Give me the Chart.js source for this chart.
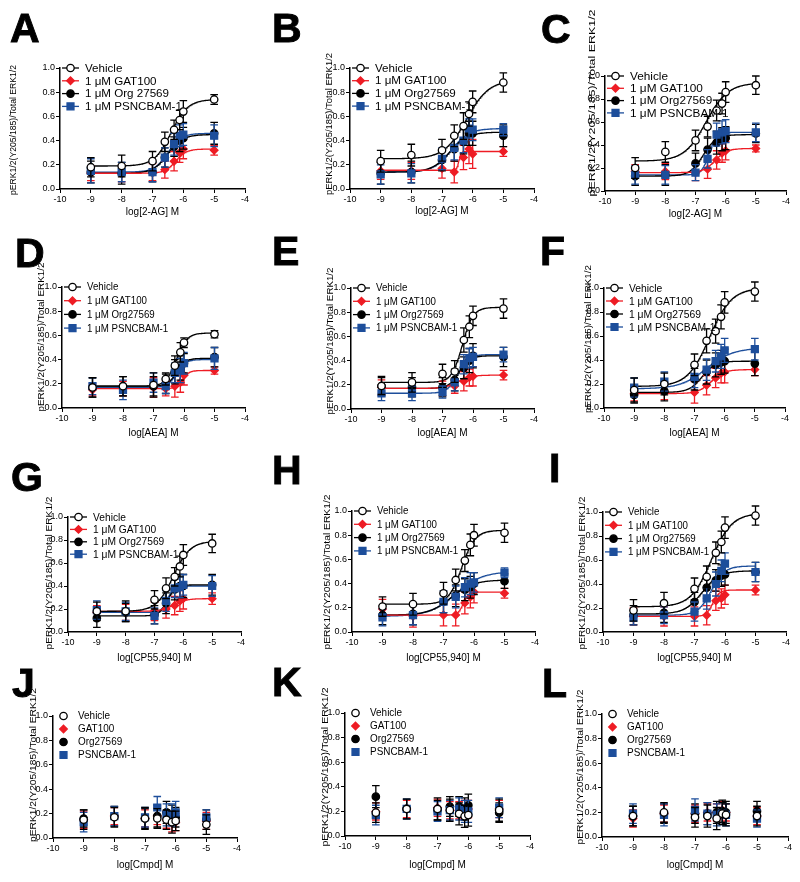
<!DOCTYPE html>
<html><head><meta charset="utf-8">
<script src="https://cdn.jsdelivr.net/npm/chart.js@4.4.0/dist/chart.umd.min.js"></script>
<style>
html,body{margin:0;padding:0;background:#fff;}
#fig{position:relative;width:800px;height:882px;overflow:hidden;background:#fff;}
#fig canvas{position:absolute;}
.lbl{position:absolute;font-family:"Liberation Sans",Arial,sans-serif;font-weight:bold;font-size:41px;line-height:41px;color:#000;-webkit-text-stroke:0.9px #000;}
</style></head><body><div id="fig"></div>
<script>
// ---------------- DATA ----------------
const panelIds = ['A','B','C','D','E','F','G','H','I','J','K','L'];
const logConc = [-9, -8, -7, -6.6, -6.3, -6.12, -6, -5];
const xTickValues = [-10, -9, -8, -7, -6, -5, -4];
const xTickLabels = ['-10', '-9', '-8', '-7', '-6', '-5', '-4'];
const yTickValues = [0, 0.2, 0.4, 0.6, 0.8, 1.0];
const yTickLabels = ['0.0', '0.2', '0.4', '0.6', '0.8', '1.0'];
const yAxisTitle = 'pERK1/2(Y205/185)/Total ERK1/2';
const xAxisTitles = ['log[2-AG] M','log[2-AG] M','log[2-AG] M','log[AEA] M','log[AEA] M','log[AEA] M',
  'log[CP55,940] M','log[CP55,940] M','log[CP55,940] M','log[Cmpd] M','log[Cmpd] M','log[Cmpd] M'];
const legendWithModulator = ['Vehicle', '1 μM GAT100', '1 μM Org27569', '1 μM PSNCBAM-1'];
const legendWithModulatorA = ['Vehicle', '1 μM GAT100', '1 μM Org 27569', '1 μM PSNCBAM-1'];
const legendCompoundOnly = ['Vehicle', 'GAT100', 'Org27569', 'PSNCBAM-1'];

const vehicleMean = [
  [0.18, 0.19, 0.23, 0.39, 0.49, 0.57, 0.64, 0.74],
  [0.23, 0.28, 0.32, 0.44, 0.52, 0.62, 0.72, 0.88],
  [0.20, 0.34, 0.44, 0.56, 0.70, 0.76, 0.86, 0.92],
  [0.17, 0.18, 0.19, 0.24, 0.35, 0.46, 0.54, 0.61],
  [0.19, 0.22, 0.29, 0.31, 0.57, 0.68, 0.77, 0.83],
  [0.15, 0.20, 0.36, 0.56, 0.64, 0.76, 0.88, 0.97],
  [0.18, 0.18, 0.28, 0.38, 0.48, 0.57, 0.67, 0.77],
  [0.21, 0.23, 0.32, 0.43, 0.59, 0.72, 0.80, 0.82],
  [0.18, 0.24, 0.36, 0.46, 0.66, 0.75, 0.87, 0.97],
  [0.15, 0.17, 0.16, 0.16, 0.15, 0.13, 0.14, 0.11],
  [0.19, 0.22, 0.22, 0.21, 0.18, 0.16, 0.17, 0.21],
  [0.17, 0.20, 0.16, 0.17, 0.15, 0.19, 0.18, 0.17]
];
const vehicleSem = [
  [0.08, 0.09, 0.08, 0.08, 0.08, 0.08, 0.09, 0.04],
  [0.09, 0.09, 0.09, 0.09, 0.11, 0.10, 0.09, 0.08],
  [0.09, 0.09, 0.09, 0.09, 0.09, 0.09, 0.09, 0.08],
  [0.08, 0.08, 0.10, 0.05, 0.08, 0.08, 0.04, 0.03],
  [0.07, 0.08, 0.08, 0.09, 0.10, 0.09, 0.08, 0.08],
  [0.10, 0.09, 0.09, 0.10, 0.10, 0.10, 0.09, 0.08],
  [0.08, 0.09, 0.08, 0.09, 0.08, 0.09, 0.09, 0.08],
  [0.08, 0.09, 0.09, 0.09, 0.09, 0.09, 0.09, 0.08],
  [0.09, 0.09, 0.09, 0.09, 0.09, 0.09, 0.09, 0.08],
  [0.08, 0.08, 0.09, 0.08, 0.08, 0.09, 0.08, 0.08],
  [0.08, 0.08, 0.09, 0.09, 0.09, 0.09, 0.09, 0.09],
  [0.08, 0.08, 0.08, 0.09, 0.09, 0.09, 0.09, 0.08]
];
const gatMean = [
  [0.13, 0.13, 0.14, 0.16, 0.23, 0.30, 0.33, 0.32],
  [0.15, 0.15, 0.17, 0.14, 0.26, 0.33, 0.29, 0.31],
  [0.17, 0.17, 0.16, 0.19, 0.27, 0.33, 0.35, 0.37],
  [0.15, 0.16, 0.17, 0.16, 0.18, 0.21, 0.27, 0.31],
  [0.18, 0.17, 0.17, 0.19, 0.23, 0.26, 0.27, 0.28],
  [0.12, 0.14, 0.13, 0.19, 0.25, 0.29, 0.30, 0.32],
  [0.17, 0.17, 0.18, 0.20, 0.23, 0.27, 0.29, 0.29],
  [0.19, 0.13, 0.14, 0.14, 0.24, 0.29, 0.33, 0.32],
  [0.13, 0.13, 0.13, 0.14, 0.26, 0.28, 0.31, 0.35],
  [0.15, 0.18, 0.16, 0.18, 0.15, 0.12, 0.13, 0.14],
  [0.20, 0.22, 0.23, 0.21, 0.21, 0.22, 0.22, 0.22],
  [0.15, 0.19, 0.19, 0.20, 0.20, 0.22, 0.20, 0.17]
];
const gatSem = [
  [0.06, 0.07, 0.07, 0.07, 0.08, 0.08, 0.08, 0.04],
  [0.07, 0.07, 0.08, 0.09, 0.10, 0.12, 0.12, 0.04],
  [0.06, 0.07, 0.07, 0.08, 0.08, 0.08, 0.08, 0.03],
  [0.05, 0.06, 0.08, 0.06, 0.09, 0.08, 0.08, 0.03],
  [0.06, 0.06, 0.06, 0.06, 0.08, 0.07, 0.08, 0.04],
  [0.06, 0.07, 0.09, 0.08, 0.08, 0.08, 0.09, 0.05],
  [0.06, 0.07, 0.08, 0.08, 0.08, 0.09, 0.09, 0.05],
  [0.08, 0.09, 0.09, 0.09, 0.09, 0.09, 0.09, 0.04],
  [0.07, 0.08, 0.08, 0.08, 0.08, 0.08, 0.08, 0.04],
  [0.07, 0.07, 0.07, 0.07, 0.07, 0.07, 0.07, 0.07],
  [0.07, 0.07, 0.07, 0.07, 0.07, 0.07, 0.07, 0.07],
  [0.07, 0.07, 0.07, 0.07, 0.07, 0.07, 0.07, 0.07]
];
const orgMean = [
  [0.14, 0.13, 0.14, 0.26, 0.35, 0.40, 0.42, 0.46],
  [0.13, 0.14, 0.24, 0.33, 0.39, 0.46, 0.46, 0.44],
  [0.13, 0.14, 0.24, 0.36, 0.42, 0.45, 0.46, 0.50],
  [0.17, 0.18, 0.18, 0.20, 0.30, 0.33, 0.37, 0.42],
  [0.19, 0.18, 0.18, 0.24, 0.34, 0.40, 0.44, 0.43],
  [0.11, 0.14, 0.24, 0.30, 0.36, 0.38, 0.39, 0.37],
  [0.12, 0.17, 0.15, 0.25, 0.37, 0.40, 0.40, 0.41],
  [0.14, 0.15, 0.25, 0.30, 0.35, 0.37, 0.40, 0.42],
  [0.14, 0.16, 0.25, 0.37, 0.43, 0.47, 0.48, 0.50],
  [0.16, 0.18, 0.16, 0.18, 0.21, 0.19, 0.17, 0.15],
  [0.32, 0.22, 0.21, 0.24, 0.24, 0.22, 0.25, 0.19],
  [0.17, 0.19, 0.19, 0.19, 0.20, 0.21, 0.20, 0.21]
];
const orgSem = [
  [0.09, 0.09, 0.08, 0.08, 0.08, 0.09, 0.09, 0.09],
  [0.09, 0.09, 0.09, 0.10, 0.10, 0.10, 0.10, 0.09],
  [0.08, 0.09, 0.09, 0.10, 0.10, 0.10, 0.10, 0.08],
  [0.08, 0.08, 0.08, 0.08, 0.10, 0.10, 0.08, 0.08],
  [0.08, 0.08, 0.08, 0.09, 0.09, 0.10, 0.10, 0.08],
  [0.07, 0.08, 0.09, 0.10, 0.10, 0.10, 0.10, 0.10],
  [0.08, 0.08, 0.08, 0.09, 0.09, 0.10, 0.10, 0.09],
  [0.08, 0.09, 0.09, 0.09, 0.09, 0.09, 0.09, 0.06],
  [0.08, 0.08, 0.08, 0.09, 0.09, 0.09, 0.09, 0.08],
  [0.07, 0.08, 0.08, 0.09, 0.09, 0.08, 0.08, 0.08],
  [0.09, 0.08, 0.08, 0.08, 0.08, 0.09, 0.09, 0.08],
  [0.08, 0.08, 0.08, 0.09, 0.09, 0.09, 0.09, 0.08]
];
const psnMean = [
  [0.15, 0.14, 0.14, 0.26, 0.37, 0.44, 0.45, 0.44],
  [0.12, 0.13, 0.25, 0.34, 0.40, 0.50, 0.49, 0.49],
  [0.14, 0.14, 0.16, 0.28, 0.49, 0.51, 0.52, 0.51],
  [0.18, 0.15, 0.21, 0.18, 0.29, 0.31, 0.37, 0.41],
  [0.13, 0.13, 0.14, 0.22, 0.37, 0.42, 0.43, 0.45],
  [0.17, 0.22, 0.26, 0.32, 0.39, 0.43, 0.48, 0.49],
  [0.19, 0.18, 0.14, 0.27, 0.38, 0.39, 0.41, 0.40],
  [0.12, 0.14, 0.25, 0.29, 0.37, 0.40, 0.41, 0.49],
  [0.12, 0.14, 0.17, 0.28, 0.40, 0.51, 0.57, 0.50],
  [0.13, 0.18, 0.17, 0.25, 0.19, 0.19, 0.21, 0.17],
  [0.17, 0.22, 0.20, 0.21, 0.22, 0.20, 0.20, 0.23],
  [0.19, 0.18, 0.22, 0.19, 0.18, 0.19, 0.18, 0.15]
];
const psnSem = [
  [0.10, 0.08, 0.08, 0.08, 0.09, 0.09, 0.09, 0.09],
  [0.08, 0.08, 0.09, 0.10, 0.10, 0.08, 0.09, 0.05],
  [0.08, 0.08, 0.07, 0.08, 0.10, 0.10, 0.10, 0.08],
  [0.07, 0.08, 0.08, 0.06, 0.08, 0.10, 0.09, 0.09],
  [0.06, 0.06, 0.05, 0.07, 0.08, 0.08, 0.08, 0.06],
  [0.08, 0.08, 0.09, 0.09, 0.09, 0.10, 0.10, 0.09],
  [0.08, 0.08, 0.07, 0.09, 0.08, 0.09, 0.09, 0.09],
  [0.07, 0.08, 0.09, 0.09, 0.08, 0.09, 0.08, 0.04],
  [0.06, 0.07, 0.08, 0.09, 0.10, 0.09, 0.09, 0.08],
  [0.08, 0.08, 0.08, 0.09, 0.09, 0.09, 0.09, 0.06],
  [0.08, 0.08, 0.08, 0.08, 0.09, 0.09, 0.09, 0.08],
  [0.08, 0.09, 0.09, 0.09, 0.09, 0.09, 0.09, 0.07]
];
// fitted curve parameters: [bottom, top, logEC50, Hill slope]; none for J-L
const vehicleFit = [
  [0.19, 0.74, -6.40, 1.6], [0.25, 0.90, -6.20, 1.2], [0.26, 0.94, -6.65, 1.2],
  [0.18, 0.62, -6.25, 2.5], [0.22, 0.84, -6.35, 2.5], [0.18, 1.00, -6.50, 1.2],
  [0.18, 0.79, -6.35, 1.5], [0.23, 0.84, -6.40, 2.0], [0.21, 0.99, -6.45, 1.3],
  null, null, null
];
const gatFit = [
  [0.13, 0.33, -6.25, 2.5], [0.155, 0.31, -6.45, 12], [0.16, 0.37, -6.35, 2.2],
  [0.16, 0.31, -6.05, 4.0], [0.17, 0.28, -6.50, 2.0], [0.12, 0.32, -6.45, 2.0],
  [0.18, 0.29, -6.35, 2.0], [0.14, 0.33, -6.35, 5.0], [0.13, 0.35, -6.40, 4.0],
  null, null, null
];
const orgFit = [
  [0.13, 0.45, -6.50, 1.8], [0.14, 0.47, -6.75, 1.5], [0.13, 0.49, -6.75, 2.0],
  [0.18, 0.41, -6.25, 3.0], [0.17, 0.44, -6.45, 2.5], [0.13, 0.39, -6.75, 2.0],
  [0.14, 0.41, -6.55, 3.0], [0.14, 0.43, -6.75, 1.2], [0.15, 0.51, -6.75, 1.5],
  null, null, null
];
const psnFit = [
  [0.14, 0.46, -6.50, 2.0], [0.14, 0.50, -6.70, 1.5], [0.14, 0.51, -6.55, 3.5],
  [0.17, 0.40, -6.25, 3.0], [0.13, 0.45, -6.50, 2.5], [0.16, 0.50, -6.60, 1.0],
  [0.17, 0.40, -6.55, 4.0], [0.13, 0.50, -6.60, 1.0], [0.14, 0.55, -6.45, 2.0],
  null, null, null
];
const fitRange = [-9, -5];

// ---------------- STYLE / LAYOUT ----------------
const seriesMeans = [vehicleMean, gatMean, orgMean, psnMean];
const seriesSems = [vehicleSem, gatSem, orgSem, psnSem];
const seriesFits = [vehicleFit, gatFit, orgFit, psnFit];
const seriesColor = ['#000000', '#ee1c24', '#000000', '#1d4e9b'];
const seriesFill = ['#ffffff', '#ee1c24', '#000000', '#1d4e9b'];
const seriesShape = ['circle', 'rectRot', 'circle', 'rect'];
const seriesRadius = [3.7, 3.8, 3.7, 4.9];
const seriesOrder = [0, 3, 2, 1];
const FONT = '"Liberation Sans", Arial, sans-serif';

// plot box (page px), y-title centre/length, x-title centre, legend font/x-scale/gap, letter position
const layout = [
  {L:60,  R:245, T:68,  B:189, ytx:13,  yty:130, ytLen:130, xt:212, lgF:11.6, lgS:1.0,  lgG:12.8, lx:10,  ly:8},
  {L:350, R:534, T:68,  B:189, ytx:329, yty:124, ytLen:142, xt:211, lgF:11.6, lgS:1.0,  lgG:12.7, lx:272, ly:8},
  {L:605, R:786, T:76,  B:191, ytx:592, yty:103, ytLen:187, xt:214, lgF:11.8, lgS:1.0,  lgG:12.3, lx:541, ly:9},
  {L:62,  R:245, T:287, B:408, ytx:41,  yty:337, ytLen:149, xt:433, lgF:10.8, lgS:0.9,  lgG:13.7, lx:15,  ly:233},
  {L:351, R:534, T:288, B:409, ytx:330, yty:341, ytLen:147, xt:433, lgF:10.8, lgS:0.9,  lgG:13.3, lx:272, ly:231},
  {L:604, R:785, T:288, B:408, ytx:588, yty:339, ytLen:148, xt:433, lgF:11,   lgS:0.94, lgG:13,   lx:540, ly:231},
  {L:68,  R:241, T:517, B:632, ytx:49,  yty:573, ytLen:153, xt:658, lgF:11,   lgS:0.93, lgG:12.4, lx:11,  ly:457},
  {L:352, R:535, T:511, B:632, ytx:327, yty:572, ytLen:155, xt:658, lgF:10.8, lgS:0.9,  lgG:13.3, lx:272, ly:450},
  {L:603, R:786, T:512, B:632, ytx:582, yty:573, ytLen:153, xt:658, lgF:10.8, lgS:0.9,  lgG:13.3, lx:549, ly:448},
  {L:53,  R:237, T:716, B:838, ytx:33,  yty:765, ytLen:154, xt:865, lgF:10.8, lgS:0.92, lgG:13,   lx:12,  ly:663},
  {L:345, R:530, T:713, B:836, ytx:325, yty:767, ytLen:159, xt:865, lgF:10.8, lgS:0.92, lgG:13,   lx:272, ly:662},
  {L:602, R:788, T:714, B:837, ytx:580, yty:767, ytLen:155, xt:865, lgF:10.8, lgS:0.92, lgG:13,   lx:542, ly:663}
];

// ---------------- PLUGINS ----------------
const errorBars = {
  id: 'errorBars',
  beforeDatasetDraw(chart, args) {
    const ds = chart.data.datasets[args.index];
    if (!ds.sem) return;
    const ys = chart.scales.y, ctx = chart.ctx;
    ctx.save();
    ctx.strokeStyle = ds.barColor;
    ctx.lineWidth = 1.3;
    args.meta.data.forEach((el, j) => {
      const v = ds.data[j].y, e = ds.sem[j];
      const top = ys.getPixelForValue(v + e), bot = ys.getPixelForValue(v - e);
      ctx.beginPath();
      ctx.moveTo(el.x, top); ctx.lineTo(el.x, bot);
      ctx.moveTo(el.x - 3.8, top); ctx.lineTo(el.x + 3.8, top);
      ctx.moveTo(el.x - 3.8, bot); ctx.lineTo(el.x + 3.8, bot);
      ctx.stroke();
    });
    ctx.restore();
  }
};

const panelDecor = {
  id: 'panelDecor',
  afterDraw(chart, args, opts) {
    const ctx = chart.ctx, ca = chart.chartArea;
    // y-axis title, glyph size fixed, stretched along the axis to the measured length
    ctx.save();
    ctx.font = '9.6px ' + FONT;
    const w = ctx.measureText(yAxisTitle).width;
    ctx.fillStyle = '#000';
    ctx.textAlign = 'center';
    ctx.textBaseline = 'middle';
    ctx.translate(opts.ytX, opts.ytY);
    ctx.rotate(-Math.PI / 2);
    ctx.scale(opts.ytLen / w, 1);
    ctx.fillText(yAxisTitle, 0, 0);
    ctx.restore();
    // legend
    ctx.save();
    ctx.font = opts.lgF + 'px ' + FONT;
    ctx.textBaseline = 'middle';
    ctx.textAlign = 'left';
    opts.labels.forEach((lab, k) => {
      const y = ca.top + k * opts.lgG;
      const x0 = ca.left;
      if (opts.withLine) {
        ctx.strokeStyle = seriesColor[k];
        ctx.lineWidth = 1.3;
        ctx.beginPath(); ctx.moveTo(x0 + 2, y); ctx.lineTo(x0 + 19, y); ctx.stroke();
      }
      ctx.fillStyle = seriesFill[k];
      ctx.strokeStyle = seriesColor[k];
      ctx.lineWidth = 1.3;
      Chart.helpers.drawPoint(ctx, {pointStyle: seriesShape[k], radius: seriesRadius[k], borderWidth: 1.3, rotation: 0}, x0 + 10.5, y);
      ctx.fillStyle = '#000';
      ctx.save();
      ctx.translate(x0 + 25, y + 0.5);
      ctx.scale(opts.lgS, 1);
      ctx.fillText(lab, 0, 0);
      ctx.restore();
    });
    ctx.restore();
  }
};

// ---------------- BUILD ----------------
const fig = document.getElementById('fig');

function fitCurve(p) {
  const pts = [];
  const [b, t, ec, h] = p;
  for (let x = fitRange[0]; x <= fitRange[1] + 1e-9; x += 0.02) {
    pts.push({x: x, y: b + (t - b) / (1 + Math.pow(10, (ec - x) * h))});
  }
  return pts;
}

panelIds.forEach((id, i) => {
  const g = layout[i];
  const cx = Math.max(0, g.L - 62), cy = Math.max(0, g.T - 75);
  const cw = g.R + 10 - cx, ch = g.B + 42 - cy;
  const yw = g.L - cx, xh = 42;
  const canvas = document.createElement('canvas');
  canvas.width = cw; canvas.height = ch;
  canvas.style.left = cx + 'px'; canvas.style.top = cy + 'px';
  canvas.style.width = cw + 'px'; canvas.style.height = ch + 'px';
  fig.appendChild(canvas);

  const letter = document.createElement('div');
  letter.className = 'lbl';
  letter.textContent = id;
  letter.style.left = g.lx + 'px'; letter.style.top = g.ly + 'px';
  fig.appendChild(letter);

  const datasets = [];
  for (let s = 0; s < 4; s++) {
    datasets.push({
      type: 'scatter',
      label: legendCompoundOnly[s],
      data: logConc.map((x, j) => ({x: x, y: seriesMeans[s][i][j]})),
      sem: seriesSems[s][i],
      barColor: seriesColor[s],
      pointStyle: seriesShape[s],
      pointRadius: seriesRadius[s],
      pointHoverRadius: seriesRadius[s],
      pointBackgroundColor: seriesFill[s],
      pointBorderColor: seriesColor[s],
      pointBorderWidth: 1.3,
      showLine: false,
      order: seriesOrder[s],
      clip: false
    });
    const fit = seriesFits[s][i];
    if (fit) {
      datasets.push({
        type: 'line',
        label: legendCompoundOnly[s] + ' fit',
        data: fitCurve(fit),
        borderColor: seriesColor[s],
        borderWidth: 1.3,
        pointRadius: 0,
        tension: 0,
        fill: false,
        order: 10 + s
      });
    }
  }
  const labels = i === 0 ? legendWithModulatorA : (i < 9 ? legendWithModulator : legendCompoundOnly);

  new Chart(canvas, {
    type: 'scatter',
    data: {datasets: datasets},
    plugins: [errorBars, panelDecor],
    options: {
      responsive: false,
      maintainAspectRatio: false,
      animation: false,
      events: [],
      layout: {padding: {left: 0, top: g.T - cy, right: 10, bottom: 0}},
      scales: {
        x: {
          type: 'linear', min: -10, max: -4,
          afterBuildTicks: sc => { sc.ticks = xTickValues.map(v => ({value: v})); },
          afterFit: sc => { sc.height = xh; },
          ticks: {
            callback: (v, k) => xTickLabels[k],
            font: {family: FONT, size: 9}, color: '#000', padding: 1, maxRotation: 0, autoSkip: false
          },
          grid: {drawOnChartArea: false, drawTicks: true, tickLength: 4, color: '#000', lineWidth: 1},
          border: {display: true, color: '#000', width: 1.5},
          title: {
            display: true, text: xAxisTitles[i], color: '#000',
            font: {family: FONT, size: 10},
            padding: {top: 0, bottom: g.B + 42 - 6 - g.xt}
          }
        },
        y: {
          type: 'linear', min: 0, max: 1,
          afterBuildTicks: sc => { sc.ticks = yTickValues.map(v => ({value: v})); },
          afterFit: sc => { sc.width = yw; },
          ticks: {
            callback: (v, k) => yTickLabels[k],
            font: {family: FONT, size: 9}, color: '#000', padding: 1, autoSkip: false
          },
          grid: {drawOnChartArea: false, drawTicks: true, tickLength: 4, color: '#000', lineWidth: 1},
          border: {display: true, color: '#000', width: 1.5}
        }
      },
      plugins: {
        legend: {display: false},
        tooltip: {enabled: false},
        panelDecor: {
          ytX: g.ytx - cx, ytY: g.yty - cy, ytLen: g.ytLen,
          labels: labels, lgF: g.lgF, lgS: g.lgS, lgG: g.lgG, withLine: i < 9
        }
      }
    }
  });
});
</script></body></html>
